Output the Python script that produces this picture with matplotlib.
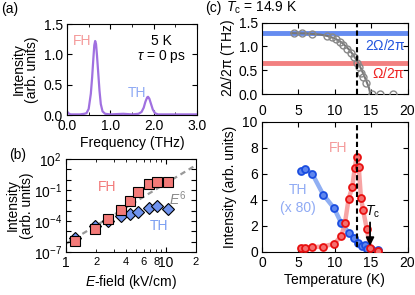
import numpy as np
import matplotlib
matplotlib.use('Agg')
import matplotlib.pyplot as plt
from matplotlib.ticker import NullLocator, FixedLocator

plt.rcParams['font.family'] = ['Liberation Sans', 'DejaVu Sans']
plt.rcParams['font.size'] = 10
plt.rcParams['mathtext.fontset'] = 'custom'
plt.rcParams['mathtext.rm'] = 'Liberation Sans'
plt.rcParams['mathtext.it'] = 'Liberation Sans:italic'
plt.rcParams['mathtext.default'] = 'regular'
plt.rcParams['axes.linewidth'] = 0.8
for ax_ in ('xtick', 'ytick'):
    plt.rcParams[ax_ + '.direction'] = 'in'
    plt.rcParams[ax_ + '.major.size'] = 3.5
    plt.rcParams[ax_ + '.minor.size'] = 2
    plt.rcParams[ax_ + '.major.width'] = 0.8
    plt.rcParams[ax_ + '.major.pad'] = 3

# (a) spectrum at 5 K
freq = [0.0, 0.03, 0.08, 0.2, 0.3, 0.4, 0.45, 0.5, 0.55, 0.58, 0.61, 0.63, 0.65,
        0.67, 0.69, 0.72, 0.75, 0.78, 0.82, 0.88, 1.0, 1.3, 1.5, 1.65, 1.72, 1.77,
        1.81, 1.85, 1.87, 1.9, 1.94, 1.98, 2.03, 2.1, 2.3, 2.6, 3.0]
spec = [0.06, 0.03, 0.01, 0.01, 0.01, 0.02, 0.03, 0.10, 0.35, 0.62, 0.95, 1.15, 1.22,
        1.17, 1.0, 0.70, 0.40, 0.18, 0.06, 0.02, 0.01, 0.02, 0.01, 0.02, 0.05, 0.12,
        0.22, 0.29, 0.30, 0.27, 0.18, 0.09, 0.03, 0.01, 0.01, 0.01, 0.01]

# (b) field dependence
efield = [1.22, 1.95, 2.65, 3.55, 4.37, 5.31, 6.71, 8.07, 10.6]
fh_log = [-5.91, -4.77, -3.80, -2.95, -2.06, -1.23, -0.46, -0.26, -0.21]
th_log = [-5.62, -4.53, -3.96, -3.53, -3.29, -3.16, -2.74, -2.55, -2.80]
guide_e = [1.0, 18.8]
guide_i = [6.3e-7, 17.8]

# (c) gap vs temperature
gap_t = [4.45, 5.45, 6.9, 8.98, 9.57, 10.2, 10.7, 11.2, 11.7, 12.2, 12.6, 13.0, 13.3,
         13.6, 13.9, 14.3, 15.1, 16.2, 18.0]
gap_v = [1.28, 1.28, 1.26, 1.23, 1.19, 1.15, 1.10, 1.03, 0.94, 0.86, 0.77, 0.66, 0.56,
         0.45, 0.35, 0.24, 0.0, 0.0, 0.0]
fit_t = [4.0, 6.0, 8.0, 9.0, 10.0, 11.0, 12.0, 12.5, 13.0, 13.5, 14.0, 14.4, 14.7, 14.9]
fit_v = [1.28, 1.275, 1.25, 1.22, 1.17, 1.08, 0.93, 0.83, 0.71, 0.57, 0.40, 0.25, 0.13, 0.0]
omega1 = 0.646
omega2 = 1.28
t_dash = 13.1

# (c) intensity vs temperature
th_t = [5.3, 5.9, 6.9, 8.4, 9.9, 10.9, 11.95, 12.6, 13.2, 13.7, 14.1, 14.5, 15.0, 16.0]
th_i = [6.2, 6.4, 6.0, 4.4, 3.35, 2.2, 1.45, 1.08, 0.65, 0.45, 0.48, 0.2, 0.2, 0.1]
fh_t = [5.3, 5.9, 6.9, 8.4, 9.9, 10.9, 11.4, 11.9, 12.4, 12.75, 13.0, 13.3, 13.6, 13.9,
        14.4, 14.9, 16.0]
fh_i = [0.3, 0.3, 0.35, 0.4, 0.6, 1.2, 2.2, 4.05, 4.95, 6.45, 7.3, 6.5, 4.15, 3.2,
        1.75, 0.25, 0.05]

salmon = '#f27a7a'
lightblue = '#7b9ff2'

fig = plt.figure(figsize=(4.15, 2.95), dpi=100)

# ---- (a)
ax = fig.add_axes([67/415, 1-115/295, 130/415, 91/295])
ax.plot(freq, spec, color='#a070e0', lw=1.6)
ax.set_xlim(0, 3)
ax.set_ylim(0, 1.5)
ax.set_xticks([0, 1, 2, 3])
ax.set_xticklabels(['0.0', '1.0', '2.0', '3.0'])
ax.set_xticks([0.5, 1.5, 2.5], minor=True)
ax.set_yticks([0, 0.5, 1.0, 1.5])
ax.tick_params(top=True, right=True, which='both')
ax.set_xlabel('Frequency (THz)', labelpad=2)
ax.set_ylabel('Intensity\n(arb. units)', labelpad=3, linespacing=1.0)
ax.text(0.36, 1.22, 'FH', color='#f49a9a', ha='center', va='center', fontsize=10)
ax.text(1.62, 0.36, 'TH', color='#8faaf4', ha='center', va='center', fontsize=10)
ax.text(2.18, 1.22, '5 K', ha='center', va='center', fontsize=10)
ax.text(2.18, 0.96, r'$\mathit{\tau}$ = 0 ps', ha='center', va='center', fontsize=10)
fig.text(10/415, 1-9/295, '(a)', ha='center', va='center', fontsize=10)

# ---- (b)
ax = fig.add_axes([66/415, 1-252/295, 130/415, 93/295])
ax.set_xscale('log')
ax.set_yscale('log')
ax.plot(guide_e, guide_i, color='#999999', lw=1.6, ls=(0, (2.5, 1.8)), zorder=1)
ax.plot(efield, [10.0**v for v in th_log], 'D', ms=6.5, mfc='#6f93ee', mec='k',
        mew=0.8, ls='none', zorder=2)
ax.plot(efield, [10.0**v for v in fh_log], 's', ms=6.5, mfc='#f37a78', mec='k',
        mew=0.8, ls='none', zorder=3)
ax.set_xlim(1, 20)
ax.set_ylim(1e-7, 1e2)
ax.set_xticks([1, 10])
ax.set_xticklabels(['1', '10'])
ax.xaxis.set_minor_locator(FixedLocator([2, 3, 4, 5, 6, 7, 8, 9, 20]))
ax.set_xticklabels(['2', '', '4', '', '6', '', '8', '', '2'], minor=True)
ax.tick_params(axis='x', which='minor', labelsize=8)
ax.set_yticks([10.0**k for k in range(-7, 3)])
ax.set_yticklabels(['10$^{%d}$' % k if (k - 2) % 3 == 0 else '' for k in range(-7, 3)])
ax.yaxis.set_minor_locator(NullLocator())
ax.tick_params(top=True, right=True, which='both')
ax.set_xlabel(r'$\mathit{E}$-field (kV/cm)', labelpad=2)
ax.set_ylabel('Intensity\n(arb. units)', labelpad=0, linespacing=1.0)
ax.text(2.6, 2e-1, 'FH', color=salmon, ha='center', va='center', fontsize=10)
ax.text(8.5, 3e-5, 'TH', color=lightblue, ha='center', va='center', fontsize=10)
ax.text(13.0, 1.5e-2, r'$\mathit{E}^{6}$', color='#888888', ha='center', va='center',
        fontsize=10)
fig.text(18/415, 1-155/295, '(b)', ha='center', va='center', fontsize=10)

# ---- (c) top
ax = fig.add_axes([262/415, 1-94/295, 145.5/415, 71.3/295])
ax.axhline(omega2, color='#4a78ee', lw=3.5, alpha=0.85, zorder=1)
ax.axhline(omega1, color='#f06a6a', lw=3.5, alpha=0.85, zorder=1)
ax.plot(fit_t, fit_v, color='#777777', lw=1.5, zorder=2)
ax.plot(gap_t, gap_v, 'o', ms=5, mfc='none', mec='#888888', mew=1.0, zorder=3)
ax.axvline(t_dash, color='k', lw=1.5, ls=(0, (2.5, 1.5)), zorder=4)
ax.set_xlim(0, 20)
ax.set_ylim(0, 1.5)
ax.set_xticks([0, 5, 10, 15, 20])
ax.set_xticklabels([])
ax.set_yticks([0, 0.5, 1.0, 1.5])
ax.tick_params(top=True, right=True)
ax.set_ylabel(r'2$\Delta$/2$\pi$ (THz)', labelpad=1)
ax.text(19.7, 1.02, r'2$\Omega$/2$\pi$', color='#2255dd', ha='right', va='center',
        fontsize=10)
ax.text(19.7, 0.43, r'$\Omega$/2$\pi$', color='#ee2222', ha='right', va='center',
        fontsize=10)
fig.text(226/415, 1-8/295, r'$\mathit{T}_{c}$ = 14.9 K', ha='left', va='center',
         fontsize=10)
fig.text(213/415, 1-8/295, '(c)', ha='center', va='center', fontsize=10)

# ---- (c) bottom
ax = fig.add_axes([262/415, 1-251.7/295, 145.5/415, 130/295])
ax.plot(th_t, th_i, color='#84a6f2', lw=3.2, alpha=0.9, zorder=1)
ax.plot(fh_t, fh_i, color='#f79a9a', lw=3.2, alpha=0.9, zorder=1)
ax.plot(th_t, th_i, 'o', ms=5, mfc='#5f86ee', mec='#1a4de0', mew=1.3, ls='none', zorder=2)
ax.plot(fh_t, fh_i, 'o', ms=5, mfc='#f47070', mec='#e81010', mew=1.3, ls='none', zorder=3)
ax.axvline(t_dash, ymin=0.04, ymax=1, color='k', lw=1.5, ls=(0, (2.5, 1.5)), zorder=4)
ax.annotate('', xy=(14.85, 0.45), xytext=(14.85, 2.25),
            arrowprops=dict(arrowstyle='-|>', color='k', lw=1.3, mutation_scale=12,
                            shrinkA=0, shrinkB=0))
ax.text(15.25, 3.1, r'$\mathit{T}_{c}$', ha='center', va='center', fontsize=10)
ax.text(10.5, 8.0, 'FH', color='#f49a9a', ha='center', va='center', fontsize=10)
ax.text(4.9, 4.75, 'TH', color='#8faaf4', ha='center', va='center', fontsize=10)
ax.text(4.9, 3.35, '(x 80)', color='#8faaf4', ha='center', va='center', fontsize=10)
ax.set_xlim(0, 20)
ax.set_ylim(0, 10)
ax.set_xticks([0, 5, 10, 15, 20])
ax.set_yticks([0, 2, 4, 6, 8, 10])
ax.tick_params(top=True, right=True, labeltop=True)
ax.set_xlabel('Temperature (K)', labelpad=2)
ax.set_ylabel('Intensity (arb. units)', labelpad=4)

fig.savefig('out.png', dpi=100)
